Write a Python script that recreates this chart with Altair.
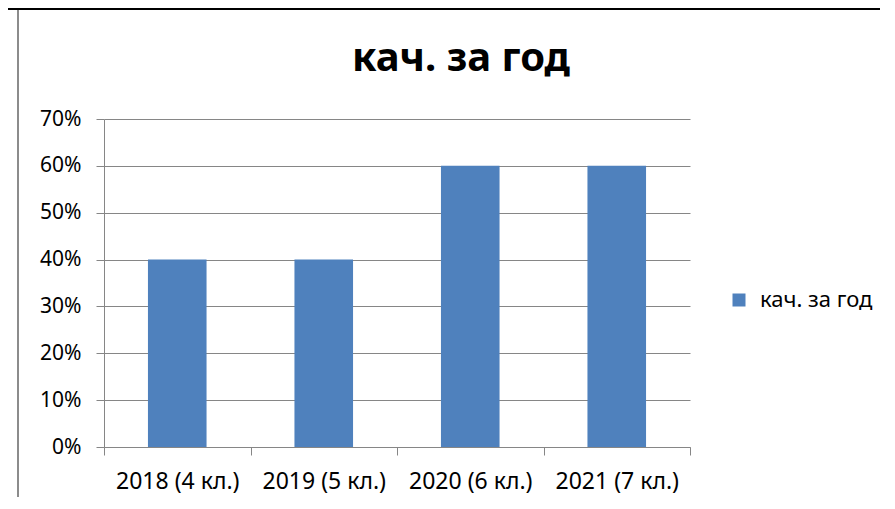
import altair as alt
import pandas as pd

categories = ["2018 (4 кл.)", "2019 (5 кл.)", "2020 (6 кл.)", "2021 (7 кл.)"]
values = [0.40, 0.40, 0.60, 0.60]
series_name = "кач. за год"
chart_title = "кач. за год"
y_ticks = [0.0, 0.1, 0.2, 0.3, 0.4, 0.5, 0.6, 0.7]

FONT = "Noto Sans"
GRAY = "#868686"

df = pd.DataFrame({"category": categories, "value": values, "series": [series_name] * len(categories)})

bars = alt.Chart(df).mark_bar(width=alt.RelativeBandSize(0.4)).encode(
    x=alt.X("category:N", sort=None,
            scale=alt.Scale(paddingInner=0, paddingOuter=0),
            axis=alt.Axis(title=None, labelAngle=0, tickBand="extent", tickSize=8,
                          labelPadding=15, grid=False, labelFontSize=23)),
    y=alt.Y("value:Q", scale=alt.Scale(domain=[0, 0.7], nice=False),
            axis=alt.Axis(title=None, values=y_ticks, format=".0%", tickSize=8,
                          labelPadding=15, grid=True, labelFontSize=21)),
    color=alt.Color("series:N",
                    scale=alt.Scale(domain=[series_name], range=["#4F81BD"]),
                    legend=alt.Legend(title=None, orient="none", legendX=624, legendY=170,
                                      symbolType="square", symbolSize=169, symbolStrokeWidth=0,
                                      labelFontSize=22, labelFont=FONT, labelColor="black",
                                      labelOffset=10, padding=0)),
)

deco = pd.DataFrame({"t": [chart_title]})
left_border = alt.Chart(deco).mark_rule(color="#8c8c8c", strokeWidth=2).encode(
    x=alt.value(-86), y=alt.value(-109), y2=alt.value(400))
top_border = alt.Chart(deco).mark_rule(color="black", strokeWidth=2).encode(
    x=alt.value(-96), x2=alt.value(800), y=alt.value(-110))
title = alt.Chart(deco).mark_text(font=FONT, fontSize=40, fontWeight="bold", color="black",
                                  align="center", baseline="alphabetic").encode(
    text="t:N", x=alt.value(357), y=alt.value(-48))

chart = alt.layer(left_border, top_border, title, bars).properties(
    width=586, height=328,
    autosize=alt.AutoSizeParams(type="none"),
    padding={"left": 96, "top": 111, "right": 190, "bottom": 50},
).configure_axis(
    domainColor=GRAY, tickColor=GRAY, gridColor=GRAY, labelColor="black",
    labelFont=FONT, domainWidth=1, gridWidth=1, tickWidth=1,
).configure_view(stroke=None)

chart.save("out.html", embed_options={"renderer": "svg", "actions": False})
